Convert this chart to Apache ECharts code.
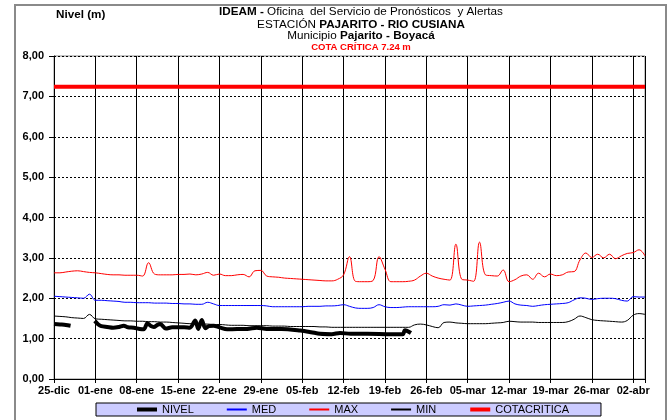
<!DOCTYPE html>
<html><head><meta charset="utf-8">
<script src="https://cdn.jsdelivr.net/npm/echarts@6/dist/echarts.min.js"></script>
<style>html,body{margin:0;padding:0;background:#fff}#c{width:671px;height:420px}</style>
</head><body><div id="c"></div>
<script>
// Tick labels every 7 days starting 25-dic (day 0)
const tickLabels = ['25-dic','01-ene','08-ene','15-ene','22-ene','29-ene','05-feb','12-feb','19-feb','26-feb','05-mar','12-mar','19-mar','26-mar','02-abr'];
const yTicks = [0,1,2,3,4,5,6,7,8];
const cotaCritica = 7.24;

// Daily values, day 0 = 25-dic ... day 100
const maxVals = [2.63,2.63,2.65,2.67,2.68,2.66,2.64,2.63,2.61,2.59,2.58,2.58,2.57,2.57,2.57,2.55,2.88,2.60,2.58,2.58,
 2.58,2.59,2.59,2.60,2.58,2.60,2.64,2.57,2.60,2.56,2.56,2.58,2.59,2.53,2.68,2.69,2.55,2.53,2.52,2.50,
 2.49,2.48,2.47,2.46,2.45,2.44,2.43,2.43,2.47,2.58,3.03,2.42,2.41,2.41,2.44,3.03,2.72,2.41,2.41,2.41,
 2.42,2.45,2.55,2.62,2.55,2.50,2.47,2.45,3.34,2.47,2.45,2.42,3.39,2.58,2.56,2.55,2.70,2.41,2.46,2.55,
 2.58,2.47,2.62,2.53,2.60,2.56,2.58,2.65,2.66,2.95,3.12,3.01,3.09,3.00,3.09,2.98,3.05,3.11,3.13,3.20,3.05];
const medVals = [2.05,2.04,2.03,2.02,2.01,2.00,2.10,1.95,1.95,1.94,1.93,1.92,1.90,1.90,1.89,1.89,1.89,1.88,1.88,1.88,
 1.87,1.87,1.86,1.86,1.85,1.85,1.90,1.86,1.82,1.82,1.82,1.82,1.82,1.82,1.82,1.82,1.81,1.79,1.79,1.79,
 1.79,1.79,1.79,1.80,1.80,1.80,1.81,1.81,1.82,1.84,1.80,1.76,1.75,1.75,1.77,1.84,1.79,1.77,1.77,1.78,
 1.79,1.79,1.79,1.79,1.79,1.80,1.84,1.83,1.86,1.83,1.80,1.81,1.82,1.83,1.85,1.87,1.90,1.93,1.86,1.83,
 1.82,1.80,1.82,1.84,1.85,1.86,1.87,1.89,1.96,2.01,2.00,1.97,1.99,2.00,2.00,1.99,1.95,1.93,2.04,2.03,2.03];
const minVals = [1.56,1.55,1.54,1.52,1.51,1.50,1.60,1.49,1.48,1.47,1.46,1.45,1.44,1.44,1.43,1.43,1.42,1.42,1.41,1.41,
 1.40,1.39,1.38,1.37,1.37,1.36,1.36,1.35,1.35,1.34,1.33,1.33,1.33,1.32,1.32,1.32,1.32,1.31,1.31,1.31,
 1.30,1.30,1.30,1.30,1.30,1.29,1.29,1.28,1.28,1.28,1.28,1.28,1.28,1.28,1.28,1.28,1.28,1.28,1.28,1.28,
 1.28,1.34,1.36,1.34,1.30,1.27,1.40,1.41,1.39,1.38,1.37,1.37,1.37,1.37,1.38,1.39,1.40,1.43,1.42,1.41,
 1.41,1.41,1.40,1.40,1.40,1.40,1.40,1.42,1.48,1.56,1.52,1.47,1.45,1.44,1.43,1.42,1.41,1.45,1.58,1.62,1.60];

// Observed level (irregular sampling, day offsets)
const nivelDays = [0,1,2,2.8,4.5,6.9,7.5,8,9,10,11,11.8,12.5,13.5,14.5,15.2,15.8,16.4,16.9,17.5,18,18.9,20,21,22,23,23.9,24.4,25,25.6,26.2,27,28,29.3,31,32.7,34.3,36,38.5,41.7,43.5,45,47,48.4,50.2,53,57,59,59.4,60.4];
const nivelVals = [1.36,1.35,1.34,1.32,null,1.44,1.35,1.31,1.29,1.27,1.29,1.32,1.28,1.27,1.24,1.23,1.38,1.31,1.29,1.34,1.36,1.25,1.28,1.28,1.28,1.27,1.45,1.24,1.46,1.26,1.31,1.32,1.28,1.23,1.24,1.24,1.27,1.24,1.24,1.20,1.16,1.12,1.11,1.14,1.12,1.12,1.11,1.11,1.21,1.14];

const pairs = arr => arr.map((v,i)=>[i,v]);
const FONT = 'Liberation Sans, Arial, sans-serif';
const FS = 11.7;
const normal = {fontSize:FS, fontWeight:'normal', color:'#000', fontFamily:FONT};
const bold = {fontSize:FS, fontWeight:'bold', color:'#000', fontFamily:FONT};

const chart = echarts.init(document.getElementById('c'), null, {renderer:'canvas'});
chart.setOption({
  animation:false,
  backgroundColor:'#fff',
  textStyle:{fontFamily:FONT},
  graphic:[{type:'rect', shape:{x:15,y:5,width:651,height:440}, style:{fill:'none', stroke:'#8a8a8a', lineWidth:2}, z:-1}],
  title:[
    {text:'Nivel (m)', left:56, top:9, padding:0, textStyle:bold},
    {text:'{b|IDEAM -} Oficina  del Servicio de Pronósticos  y Alertas', left:361, top:6, padding:0, textAlign:'center',
     textStyle:Object.assign({}, normal, {rich:{b:bold}})},
    {text:'ESTACIÓN {b|PAJARITO - RIO CUSIANA}', left:361, top:18.5, padding:0, textAlign:'center',
     textStyle:Object.assign({}, normal, {rich:{b:bold}})},
    {text:'Municipio {b|Pajarito - Boyacá}', left:361, top:30, padding:0, textAlign:'center',
     textStyle:Object.assign({}, normal, {rich:{b:bold}})},
    {text:'COTA CRÍTICA 7.24 m', left:361, top:42.5, padding:0, textAlign:'center',
     textStyle:{fontSize:9.5, fontWeight:'bold', color:'#ff0000', fontFamily:FONT}}
  ],
  legend:{
    left:96, top:403, orient:'horizontal',
    backgroundColor:'#ccccff', borderColor:'#000', borderWidth:1,
    padding:[1,32,1,39], itemGap:32, itemWidth:20, itemHeight:12,
    itemStyle:{opacity:0},
    textStyle:{fontSize:11, color:'#000', fontFamily:FONT},
    data:[
      {name:'NIVEL', lineStyle:{width:4, color:'#000'}},
      'MED','MAX','MIN',
      {name:'COTACRITICA', lineStyle:{width:4, color:'#ff0000'}}
    ]
  },
  grid:{left:54, right:26, top:56, bottom:41, show:true, borderColor:'#8a8a8a', borderWidth:1, backgroundColor:'transparent'},
  xAxis:{
    type:'value', min:0, max:100, interval:7,
    axisLine:{show:true, onZero:false, lineStyle:{color:'#000', width:1}},
    axisTick:{show:true, length:4, lineStyle:{color:'#000'}},
    splitLine:{show:true, lineStyle:{color:'#000', width:1}},
    axisLabel:{fontSize:11, fontWeight:'bold', color:'#000', margin:6, fontFamily:FONT,
      formatter:v=>{const i=Math.round(v/7); return (Math.abs(v-i*7)<1e-6 && tickLabels[i])?tickLabels[i]:'';}}
  },
  yAxis:{
    type:'value', min:yTicks[0], max:yTicks[yTicks.length-1], interval:1,
    axisLine:{show:true, lineStyle:{color:'#000', width:1}},
    axisTick:{show:true, length:5, lineStyle:{color:'#000'}},
    splitLine:{show:true, lineStyle:{color:'#000', width:1, type:[2,2]}},
    axisLabel:{fontSize:11, fontWeight:'bold', color:'#000', margin:10, fontFamily:FONT,
      formatter:v=>v.toFixed(2).replace('.',',')}
  },
  series:[
    {name:'NIVEL', type:'line', symbol:'none', smooth:0.3, connectNulls:false, z:5,
     lineStyle:{color:'#000', width:4}, itemStyle:{color:'#000'},
     data:nivelDays.map((d,i)=>[d, nivelVals[i]===null?'-':nivelVals[i]])},
    {name:'MED', type:'line', symbol:'none', smooth:0.4, lineStyle:{color:'#0000ff', width:1}, itemStyle:{color:'#0000ff'}, data:pairs(medVals)},
    {name:'MAX', type:'line', symbol:'none', smooth:0.4, lineStyle:{color:'#ff0000', width:1}, itemStyle:{color:'#ff0000'}, data:pairs(maxVals)},
    {name:'MIN', type:'line', symbol:'none', smooth:0.4, lineStyle:{color:'#000', width:1}, itemStyle:{color:'#000'}, data:pairs(minVals)},
    {name:'COTACRITICA', type:'line', symbol:'none', lineStyle:{color:'#ff0000', width:4}, itemStyle:{color:'#ff0000'},
     data:[[0,cotaCritica],[100,cotaCritica]]}
  ]
});
</script></body></html>
